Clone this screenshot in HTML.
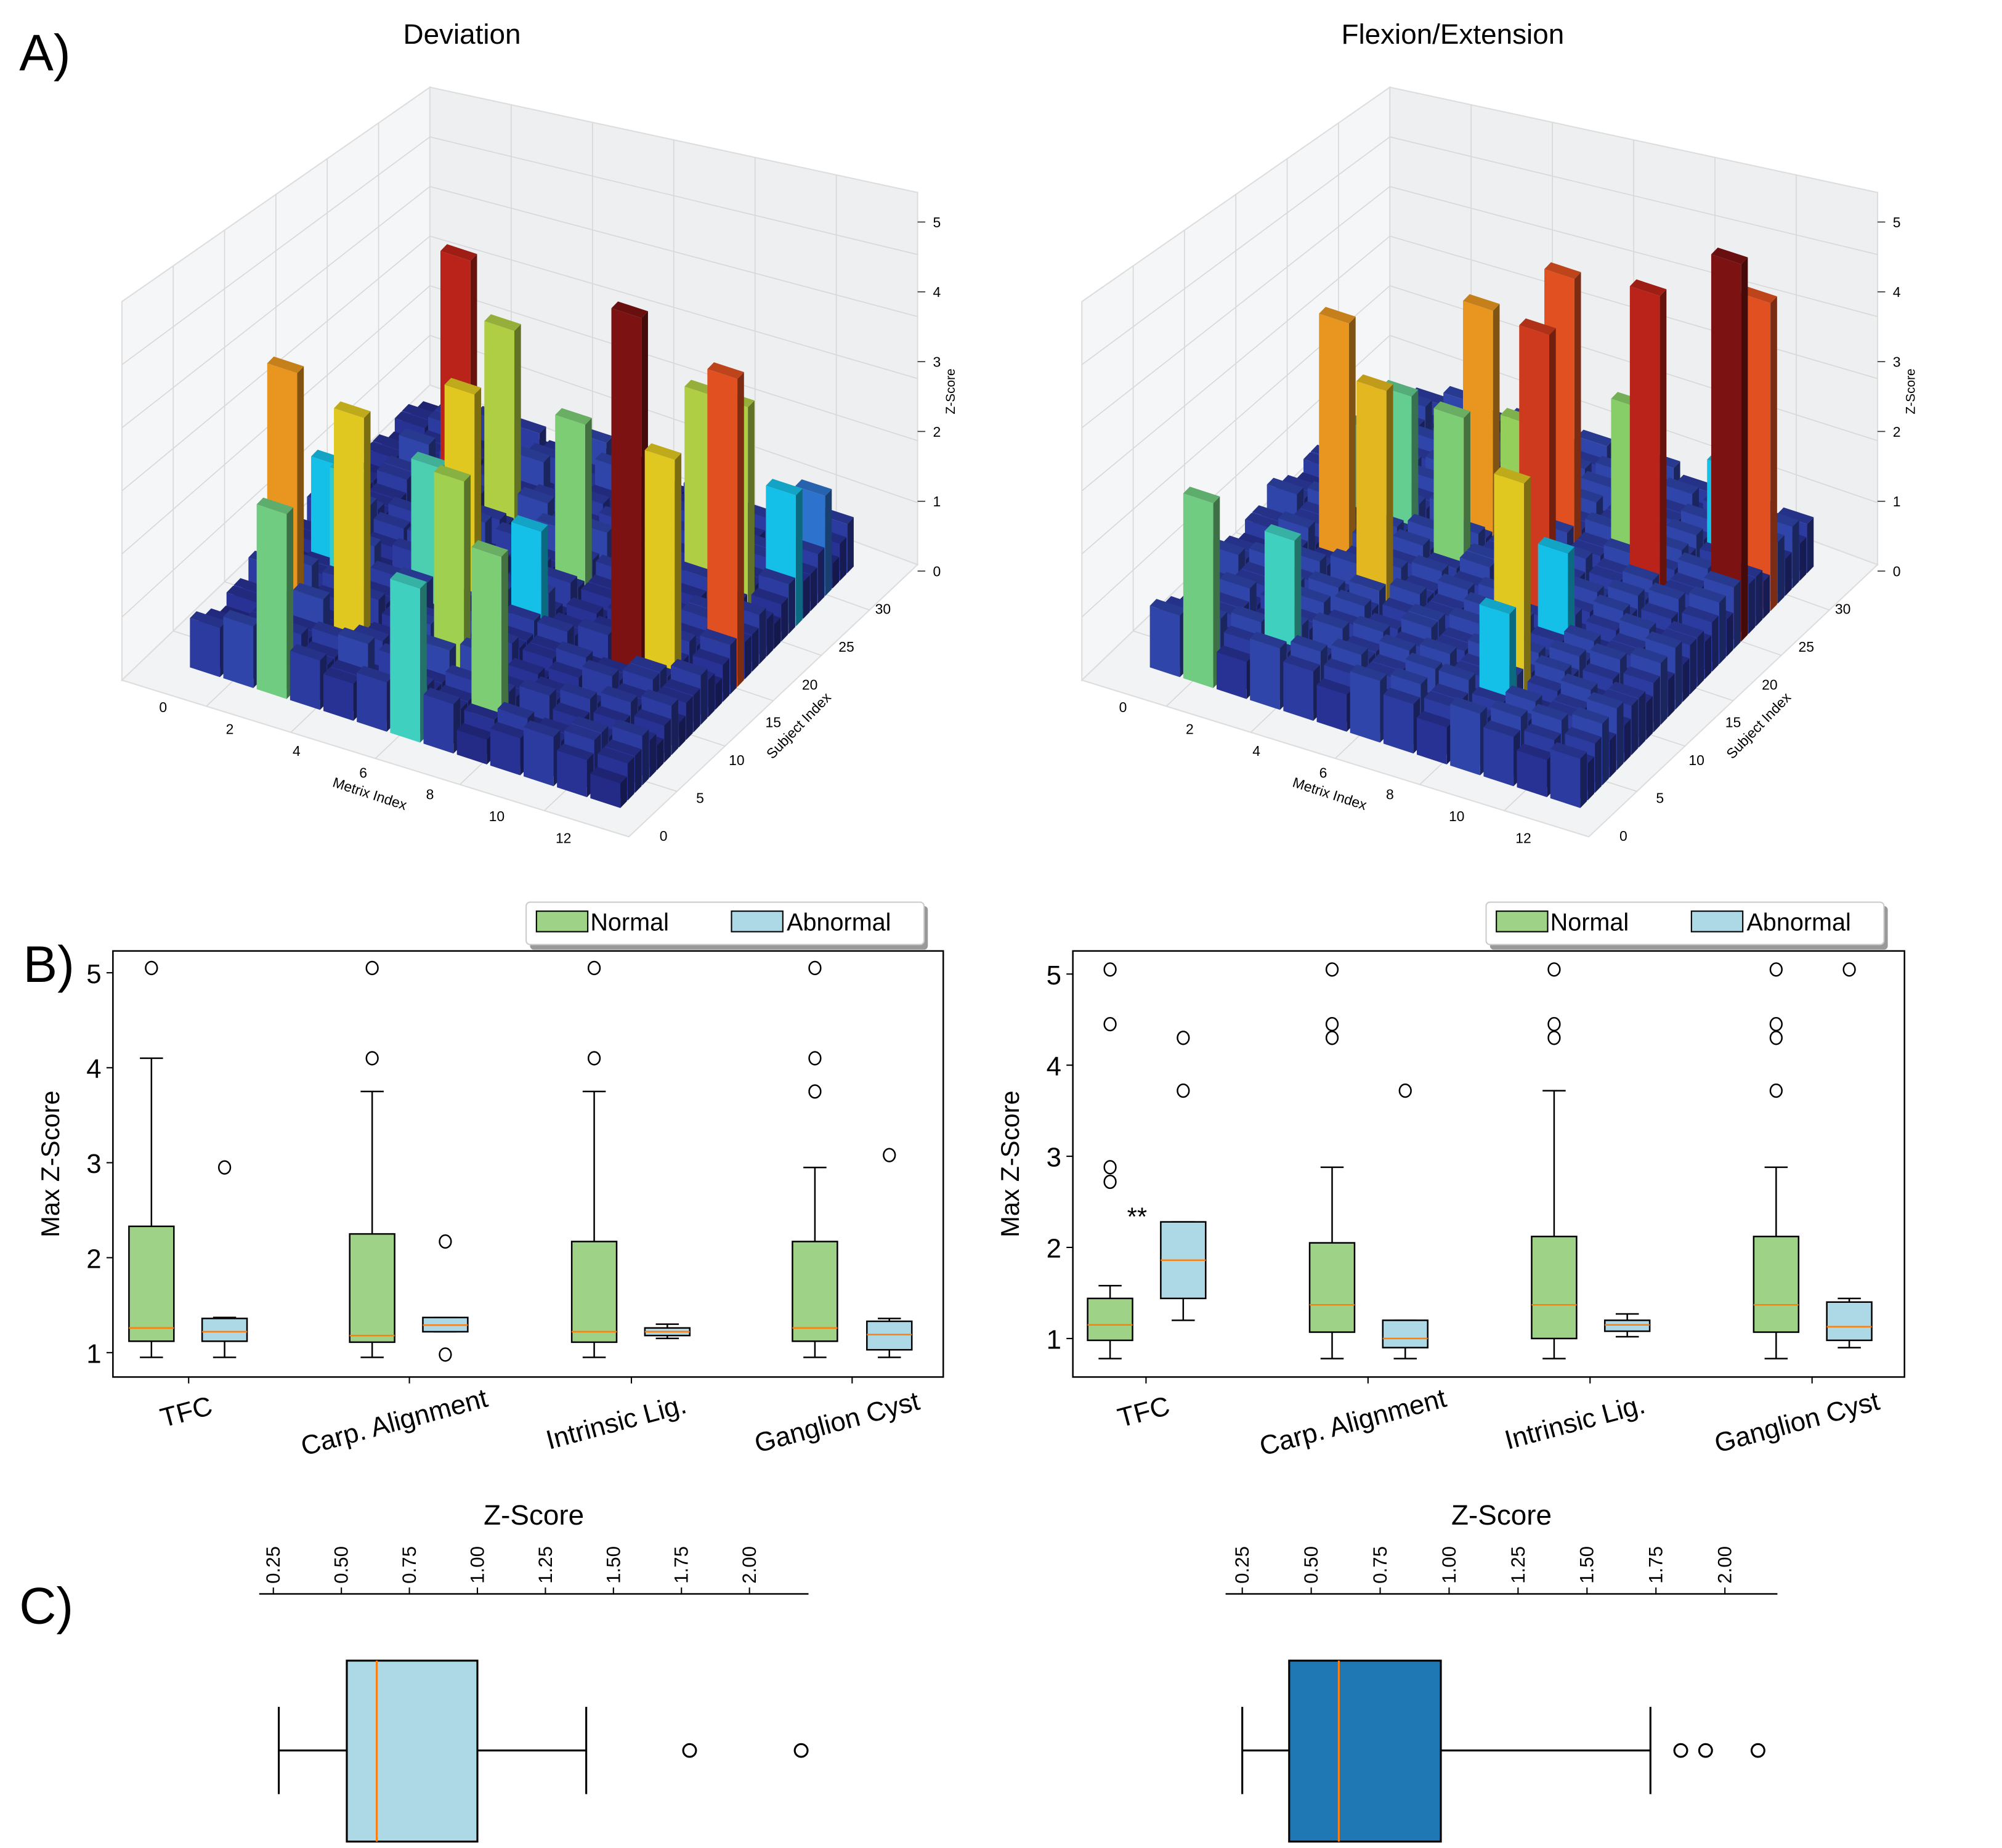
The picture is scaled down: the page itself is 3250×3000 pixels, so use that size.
<!DOCTYPE html>
<html><head><meta charset="utf-8">
<style>
html,body{margin:0;padding:0;background:#fff;}
svg{display:block;font-family:"Liberation Sans",sans-serif;}
</style></head>
<body>
<svg id="fig" width="3250" height="3000" viewBox="0 0 1560 1440" xmlns="http://www.w3.org/2000/svg">
<rect width="1560" height="1440" fill="#fff"/>
<text x="15" y="55" font-size="40">A)</text>
<text x="18" y="765" font-size="40">B)</text>
<text x="15" y="1265" font-size="40">C)</text>
<text x="360" y="34" font-size="22" text-anchor="middle">Deviation</text>
<text x="1132" y="34" font-size="22" text-anchor="middle">Flexion/Extension</text>
<g id="g3dL"></g>
<g id="g3dR"></g>
<g id="gBL"></g>
<g id="gBR"></g>
<g id="gCL"></g>
<g id="gCR"></g>
</svg>
<script>
// ---------- 3D data ----------
const metricTicks=[0,2,4,6,8,10,12];
const subjectTicks=[0,5,10,15,20,25,30];
const zTicks=[0,1,2,3,4,5];
// base heights: digit d -> d*0.16 z-units (metric rows, subject columns)
const devBase=[
"43322332433223324322332233223322",
"54333443523334435433344353334433",
"32433522343352234343222434332242",
"43343242433432424334324243343242",
"33524332335243323352433233524332",
"43242353432423534324235343242353",
"34335243343352433433524334335243",
"43342532433425324334253243342532",
"23343323233433232334332323343323",
"34224332342243323422433234224332",
"43323432433234324332343243323432",
"34432343344323433443234334432343",
"23343234233432342334323423343234"];
const devTall=[[2,0,2.4],[1,6,3.5],[2,10,1.9],[1,12,1.7],[3,6,3.2],[4,12,2.1],[4,16,4.4],[4,22,2.9],[5,12,3.2],[6,0,2.0],[6,6,2.8],[8,2,2.5],[7,12,1.7],[7,18,2.5],[10,12,4.9],[10,22,2.9],[11,22,2.9],[11,12,3.2],[12,16,4.0],[12,24,1.7],[12,28,1.3]];
const flxBase=[
"54433443544334435443344354433443",
"45344534453445344534453445344534",
"34543345345433453454334534543345",
"54354453543544535435445354354453",
"45435345454353454543534545435345",
"34544534345445343454453434544534",
"53445345534453455344534553445345",
"45354534453545344535453445354534",
"34453445344534453445344534453445",
"54344534543445345434453454344534",
"45453345454533454545334545453345",
"34534453345344533453445334534453",
"43453534434535344345353443453534"];
const flxTall=[[1,0,2.4],[3,2,2.0],[2,14,3.5],[4,10,3.3],[5,16,2.5],[3,18,2.3],[2,18,1.7],[5,20,3.5],[7,22,4.0],[7,16,2.7],[8,14,4.2],[9,6,3.2],[9,22,2.6],[9,4,1.7],[9,12,1.7],[10,20,4.4],[12,22,4.9],[12,26,4.0],[11,26,1.7]];

// ---------- Boxplot data ----------
const categories=["TFC","Carp. Alignment","Intrinsic Lig.","Ganglion Cyst"];
const yTicksB=[1,2,3,4,5];
const devNormal=[[0.95,1.12,1.26,2.33,4.1],[0.95,1.11,1.18,2.25,3.75],[0.95,1.11,1.22,2.17,3.75],[0.95,1.12,1.26,2.17,2.95]];
const devNormalOut=[[5.05],[4.1,5.05],[4.1,5.05],[3.75,4.1,5.05]];
const devAbn=[[0.95,1.12,1.22,1.36,1.37],[1.22,1.22,1.29,1.37,1.37],[1.15,1.18,1.22,1.26,1.3],[0.95,1.03,1.19,1.33,1.36]];
const devAbnOut=[[2.95],[2.17,0.98],[],[3.08]];
const flxNormal=[[0.78,0.98,1.15,1.44,1.58],[0.78,1.07,1.37,2.05,2.88],[0.78,1.0,1.37,2.12,3.72],[0.78,1.07,1.37,2.12,2.88]];
const flxNormalOut=[[2.72,2.88,4.45,5.05],[4.3,4.45,5.05],[4.3,4.45,5.05],[3.72,4.3,4.45,5.05]];
const flxAbn=[[1.2,1.44,1.86,2.28,2.28],[0.78,0.9,1.0,1.2,1.2],[1.02,1.08,1.15,1.2,1.27],[0.9,0.98,1.13,1.4,1.44]];
const flxAbnOut=[[3.72,4.3],[3.72],[],[5.05]];

// ---------- Panel C data ----------
const cTicks=[0.25,0.5,0.75,1.0,1.25,1.5,1.75,2.0];
const devZ=[0.27,0.52,0.63,1.0,1.4];
const devZOut=[1.78,2.19];
const flxZ=[0.25,0.42,0.6,0.97,1.73];
const flxZOut=[1.84,1.93,2.12];

const NS="http://www.w3.org/2000/svg";
function mk(parent,tag,attrs){const e=document.createElementNS(NS,tag);for(const k in attrs)e.setAttribute(k,attrs[k]);parent.appendChild(e);return e;}
function txt(parent,x,y,s,size,attrs){const e=mk(parent,'text',Object.assign({x:x,y:y,'font-size':size},attrs||{}));e.textContent=s;return e;}

const stops=[[0,[28,30,105]],[0.5,[40,50,150]],[0.9,[50,75,175]],[1.3,[45,115,205]],[1.7,[21,192,232]],[2.0,[64,208,192]],[2.4,[112,204,128]],[2.8,[160,208,80]],[3.2,[224,200,32]],[3.5,[232,150,32]],[4.0,[224,80,32]],[4.5,[176,24,24]],[5,[112,16,16]]];
function cmap(h){for(let i=1;i<stops.length;i++){if(h<=stops[i][0]){const a=stops[i-1],b=stops[i];const t=(h-a[0])/(b[0]-a[0]);return a[1].map((v,j)=>v+(b[1][j]-v)*t);}}return stops[stops.length-1][1];}
function rgb(c,f){return 'rgb('+c.map(v=>Math.max(0,Math.min(255,Math.round(v*f)))).join(',')+')';}

function draw3d(g,base,tall,ox){
  const P=(m,s,z)=>[ox+148+26*m+5.7*s,520+8.5*m-5.9*s-60*z];
  const pts=a=>a.map(p=>p.join(',')).join(' ');
  const A=[ox+95,530],B=[ox+335,300],C=[ox+715,440],D=[ox+490,652],At=[ox+95,235],Bt=[ox+335,68],Ct=[ox+715,150];
  let p=mk(g,'polygon',{points:pts([A,At,Bt,B]),fill:'#f5f6f7',stroke:'#ddd'});
  
  
  p=mk(g,'polygon',{points:pts([B,Bt,Ct,C]),fill:'#eeeff0',stroke:'#ddd'});
  
  
  p=mk(g,'polygon',{points:pts([A,B,C,D]),fill:'#f2f3f4',stroke:'#ddd'});
  
  
  const lerp=(a,b,t)=>[a[0]+(b[0]-a[0])*t,a[1]+(b[1]-a[1])*t];
  const gl=(a,b)=>mk(g,'line',{x1:a[0],y1:a[1],x2:b[0],y2:b[1],stroke:'#d8d8d8','stroke-width':0.8});
  for(let i=1;i<6;i++){const t=i/6;
    gl(lerp(A,B,t),lerp(At,Bt,t));
    gl(lerp(B,C,t),lerp(Bt,Ct,t));
    gl(lerp(A,At,t),lerp(B,Bt,t));
    gl(lerp(B,Bt,t),lerp(C,Ct,t));
    gl(lerp(A,D,t),lerp(B,C,t));
    gl(lerp(D,C,t),lerp(A,B,t));
  }
  const H=base.map(r=>r.split('').map(d=>+d*0.16));
  tall.forEach(t=>{H[t[0]][t[1]]=t[2];});
  const bars=[];
  H.forEach((row,m)=>row.forEach((h,s)=>{if(h>0)bars.push([m,s,h]);}));
  bars.sort((a,b)=>(8.5*a[0]-5.9*a[1])-(8.5*b[0]-5.9*b[1]));
  const dx=0.9,dy=0.9;
  bars.forEach(b=>{const [m,s,h]=b;const c=cmap(h);const m1=m+dx,s1=s+dy;
    const bg=mk(g,'g',{});
    
    
    mk(bg,'polygon',{points:pts([P(m,s,0),P(m1,s,0),P(m1,s,h),P(m,s,h)]),fill:rgb(c,1)});
    mk(bg,'polygon',{points:pts([P(m1,s,0),P(m1,s1,0),P(m1,s1,h),P(m1,s,h)]),fill:rgb(c,0.55)});
    mk(bg,'polygon',{points:pts([P(m,s,h),P(m1,s,h),P(m1,s1,h),P(m,s1,h)]),fill:rgb(c,0.85)});
  });
  metricTicks.forEach(v=>{const q=P(v+0.5,-3.5,0);const e=txt(g,q[0]-14,q[1]+10,v,11,{'text-anchor':'middle'});
    
    });
  subjectTicks.forEach(v=>{const q=P(14.5,v,0);const e=txt(g,q[0]-8,q[1]+12,v,11,{'text-anchor':'middle'});
    
    });
  zTicks.forEach(v=>{const y=445-v*54.4;const e=txt(g,ox+730,y+4,v,11,{'text-anchor':'middle'});
    
    
    mk(g,'line',{x1:ox+715,y1:y,x2:ox+721,y2:y,stroke:'#333','stroke-width':0.8});});
  let e=txt(g,0,0,'Metrix Index',11,{'text-anchor':'middle',transform:'translate('+(ox+287)+',622) rotate(18)'});
  
  
  e=txt(g,0,0,'Subject Index',11,{'text-anchor':'middle',transform:'translate('+(ox+625)+',568) rotate(-46)'});
  
  
  e=txt(g,0,0,'Z-Score',10,{'text-anchor':'middle',transform:'translate('+(ox+744)+',305) rotate(-90)'});
  
  
}
draw3d(document.getElementById('g3dL'),devBase,devTall,0);
draw3d(document.getElementById('g3dR'),flxBase,flxTall,748);

function drawBoxplot(g,x0,x1,yA,yB,yOne,unit,nC,aC,normal,nOut,abn,aOut,tickX){
  const Y=v=>yOne-(v-1)*unit;
  let r=mk(g,'rect',{x:x0,y:yA,width:x1-x0,height:yB-yA,fill:'none',stroke:'#000','stroke-width':1.2});
  
  
  yTicksB.forEach(v=>{mk(g,'line',{x1:x0-5,y1:Y(v),x2:x0,y2:Y(v),stroke:'#000'});
    const e=txt(g,x0-9,Y(v)+8,v,21,{'text-anchor':'end'});
    
    });
  const e=txt(g,0,0,'Max Z-Score',20,{'text-anchor':'middle',transform:'translate('+(x0-42)+','+((yA+yB)/2)+') rotate(-90)'});
  
  
  const one=(cx,st,out,fill,name)=>{const bg=mk(g,'g',{});
    
    
    const w=35;
    mk(bg,'line',{x1:cx,y1:Y(st[0]),x2:cx,y2:Y(st[1]),stroke:'#000','stroke-width':1.2});
    mk(bg,'line',{x1:cx,y1:Y(st[3]),x2:cx,y2:Y(st[4]),stroke:'#000','stroke-width':1.2});
    mk(bg,'line',{x1:cx-9,y1:Y(st[0]),x2:cx+9,y2:Y(st[0]),stroke:'#000','stroke-width':1.2});
    mk(bg,'line',{x1:cx-9,y1:Y(st[4]),x2:cx+9,y2:Y(st[4]),stroke:'#000','stroke-width':1.2});
    mk(bg,'rect',{x:cx-w/2,y:Y(st[3]),width:w,height:Math.max(1,Y(st[1])-Y(st[3])),fill:fill,stroke:'#000','stroke-width':1.2});
    mk(bg,'line',{x1:cx-w/2,y1:Y(st[2]),x2:cx+w/2,y2:Y(st[2]),stroke:'#ff7f0e','stroke-width':1.2});
    out.forEach(v=>mk(bg,'ellipse',{cx:cx,cy:Y(v),rx:4.5,ry:5,fill:'none',stroke:'#000','stroke-width':1.2}));};
  categories.forEach((c,i)=>{
    one(nC[i],normal[i],nOut[i],'#9dd287','normal-box-'+i);
    one(aC[i],abn[i],aOut[i],'#add8e6','abnormal-box-'+i);
    mk(g,'line',{x1:tickX[i],y1:yB,x2:tickX[i],y2:yB+5,stroke:'#000'});
    const t=txt(g,0,0,c,21,{'text-anchor':'middle',transform:'translate('+(tickX[i]-(i==0?0:10))+','+(yB+(i==0?34:42))+') rotate(-15)'});
    
    
  });
}
function legend(g,x){
  const lg=mk(g,'g',{});
  
  
  mk(lg,'rect',{x:x+3,y:706,width:310,height:34,fill:'#999',rx:3});
  mk(lg,'rect',{x:x,y:703,width:310,height:33,fill:'#fff',stroke:'#ccc',rx:3});
  mk(lg,'rect',{x:x+8,y:710,width:40,height:16,fill:'#9dd287',stroke:'#000'});
  let t=txt(lg,x+50,725,'Normal',19);
  
  
  mk(lg,'rect',{x:x+160,y:710,width:40,height:16,fill:'#add8e6',stroke:'#000'});
  t=txt(lg,x+203,725,'Abnormal',19);
  
  
}
const gBL=document.getElementById('gBL'),gBR=document.getElementById('gBR');
drawBoxplot(gBL,88,735,741,1073,1054,74,[118,290,463,635],[175,347,520,693],devNormal,devNormalOut,devAbn,devAbnOut,[147,319,492,664]);
drawBoxplot(gBR,836,1484,741,1073,1043,71,[865,1038,1211,1384],[922,1095,1268,1441],flxNormal,flxNormalOut,flxAbn,flxAbnOut,[893,1066,1239,1412]);
legend(gBL,410);legend(gBR,1158);
let st=txt(gBR,886,955,'**',20,{'text-anchor':'middle'});



function drawC(g,x0,x1,v0x,per,stats,out,fill){
  const X=v=>v0x+(v-0.25)*per;
  mk(g,'line',{x1:x0,y1:1242,x2:x1,y2:1242,stroke:'#000','stroke-width':1.2});
  cTicks.forEach(v=>{mk(g,'line',{x1:X(v),y1:1242,x2:X(v),y2:1237,stroke:'#000'});
    const t=txt(g,0,0,v.toFixed(2),15,{transform:'translate('+(X(v)+5)+',1234) rotate(-90)'});
    
    });
  const tt=txt(g,(x0+x1)/2,1188,'Z-Score',22,{'text-anchor':'middle'});
  
  
  const b=mk(g,'g',{});
  
  
  mk(b,'line',{x1:X(stats[0]),y1:1364,x2:X(stats[1]),y2:1364,stroke:'#000','stroke-width':1.5});
  mk(b,'line',{x1:X(stats[3]),y1:1364,x2:X(stats[4]),y2:1364,stroke:'#000','stroke-width':1.5});
  mk(b,'line',{x1:X(stats[0]),y1:1330,x2:X(stats[0]),y2:1398,stroke:'#000','stroke-width':1.5});
  mk(b,'line',{x1:X(stats[4]),y1:1330,x2:X(stats[4]),y2:1398,stroke:'#000','stroke-width':1.5});
  mk(b,'rect',{x:X(stats[1]),y:1294,width:X(stats[3])-X(stats[1]),height:141,fill:fill,stroke:'#000','stroke-width':1.5});
  mk(b,'line',{x1:X(stats[2]),y1:1294,x2:X(stats[2]),y2:1435,stroke:'#ff7f0e','stroke-width':1.5});
  out.forEach(v=>mk(b,'circle',{cx:X(v),cy:1364,r:5,fill:'none',stroke:'#000','stroke-width':1.5}));
}
drawC(document.getElementById('gCL'),202,630,213,212,devZ,devZOut,'#add8e6');
drawC(document.getElementById('gCR'),955,1385,968,214.9,flxZ,flxZOut,'#1f77b4');
</script>
</body></html>
